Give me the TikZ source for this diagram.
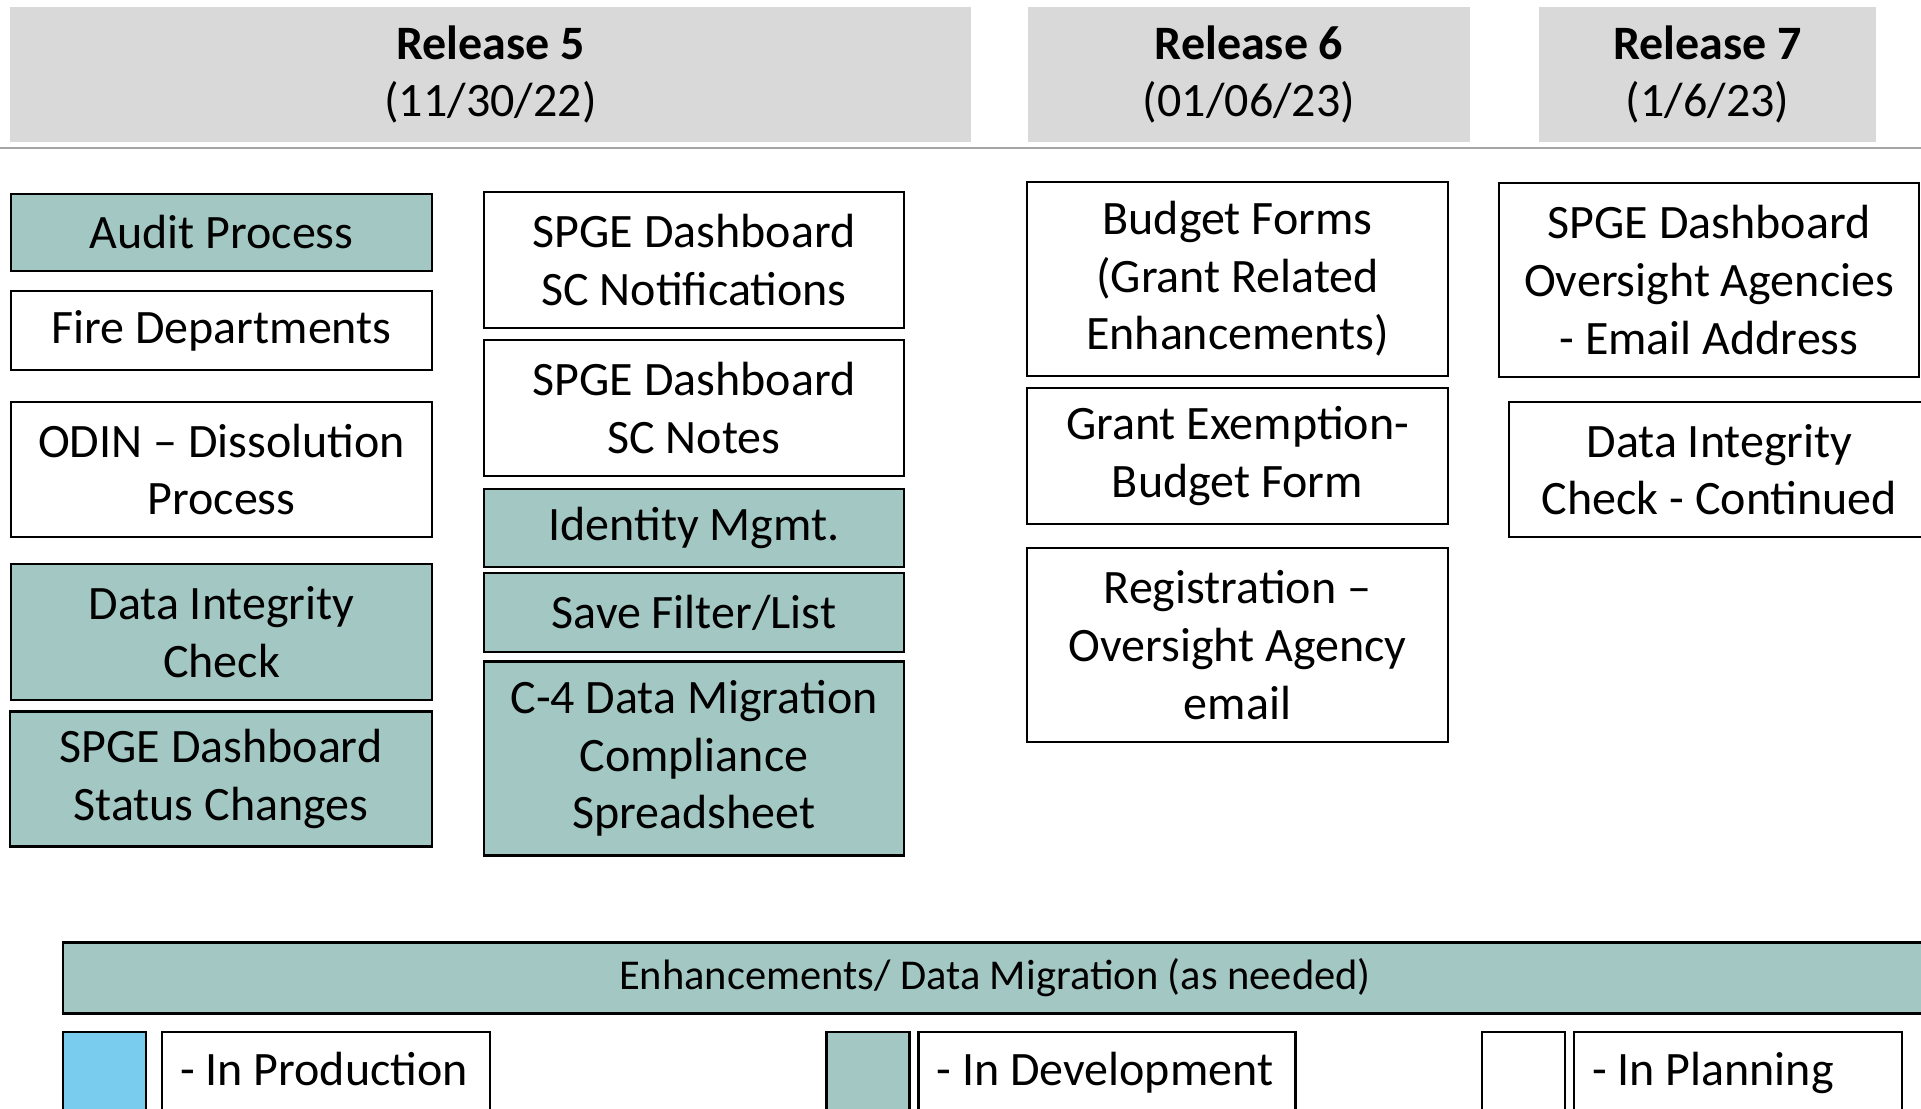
\documentclass[tikz,border=0pt]{standalone}
\usepackage{fontspec}
\setmainfont{Carlito}
\usepackage{xcolor}

\definecolor{devteal}{HTML}{A3C8C4}
\definecolor{prodblue}{HTML}{7ACCEF}
\definecolor{headgray}{HTML}{D9D9D9}
\definecolor{rulegray}{HTML}{A6A6A6}

\tikzset{
  task/.style={draw=black, line width=2.2pt, align=center, inner sep=0pt,
    font=\fontsize{48}{57.6}\selectfont},
  devtask/.style={task, fill=devteal},
  relhead/.style={fill=headgray, align=center, inner sep=0pt,
    font=\fontsize{48}{57.6}\selectfont},
  legswatch/.style={draw=black, line width=2.2pt, minimum width=83pt,
    minimum height=78pt, inner sep=0pt},
  leglabel/.style={task, align=flush left, inner xsep=18pt, minimum height=78pt,
    text height=37pt, text depth=9pt}
}

\begin{document}
\begin{tikzpicture}[x=1pt, y=-1pt]
  \clip (0,0) rectangle (1921,1108);

  % release headers
  \node[relhead, minimum width=961pt, minimum height=135pt] (relfive)
  at (490.5,74.5) {\textbf{Release 5}\\(11/30/22)};
  \node[relhead, minimum width=442pt, minimum height=135pt] (relsix)
  at (1249,74.5) {\textbf{Release 6}\\(01/06/23)};
  \node[relhead, minimum width=337pt, minimum height=135pt] (relseven)
  at (1707.5,74.5) {\textbf{Release 7}\\(1/6/23)};
  \draw[rulegray, line width=2pt] (0,148) -- (1921,148);

  % release 5, first column
  \node[devtask, minimum width=421pt, minimum height=77pt] (audit)
  at (221.5,232.5) {Audit Process};
  \node[task, minimum width=421pt, minimum height=79pt] (fire)
  at (221.5,330.5) {Fire Departments};
  \node[task, minimum width=421pt, minimum height=135pt] (odin)
  at (221.5,469.5) {ODIN -- Dissolution\\Process};
  \node[devtask, minimum width=421pt, minimum height=136pt] (integrity)
  at (221.5,632) {Data Integrity\\Check};
  \node[devtask, minimum width=422pt, minimum height=135pt] (status)
  at (221,779) {SPGE Dashboard\\Status Changes};

  % release 5, second column
  \node[task, minimum width=420pt, minimum height=136pt] (notify)
  at (694,260) {SPGE Dashboard\\SC Notifications};
  \node[task, minimum width=420pt, minimum height=136pt] (notes)
  at (694,408) {SPGE Dashboard\\SC Notes};
  \node[devtask, minimum width=420pt, minimum height=78pt] (identity)
  at (694,528) {Identity Mgmt.};
  \node[devtask, minimum width=420pt, minimum height=79pt] (savefilter)
  at (694,612.5) {Save Filter/List};
  \node[devtask, minimum width=420pt, minimum height=194pt] (cfour)
  at (694,758.5) {C-4 Data Migration\\Compliance\\Spreadsheet};

  % release 6
  \node[task, minimum width=421pt, minimum height=194pt] (budget)
  at (1237.5,279) {Budget Forms\\(Grant Related\\Enhancements)};
  \node[task, minimum width=421pt, minimum height=136pt] (exemption)
  at (1237.5,456) {Grant Exemption-\\Budget Form};
  \node[task, minimum width=421pt, minimum height=194pt] (registration)
  at (1237.5,645) {Registration --\\Oversight Agency\\email};

  % release 7
  \node[task, minimum width=420pt, minimum height=194pt] (oversight)
  at (1709,280) {SPGE Dashboard\\Oversight Agencies\\- Email Address};
  \node[task, minimum width=421pt, minimum height=135pt] (intcont)
  at (1719.5,469.5) {Data Integrity\\Check - Continued};

  % ongoing bar
  \node[devtask, minimum width=1864pt, minimum height=71pt,
  font=\fontsize{42.5}{50}\selectfont] (ongoing)
  at (995,978) {Enhancements/ Data Migration (as needed)};

  % legend
  \node[legswatch, fill=prodblue] (prodswatch) at (104.5,1071) {};
  \node[leglabel, text width=292pt] (prodlabel) at (326,1071) {- In Production};
  \node[legswatch, fill=devteal] (devswatch) at (868,1071) {};
  \node[leglabel, text width=341pt] (devlabel) at (1107,1071) {- In Development};
  \node[legswatch, fill=white] (planswatch) at (1523.5,1071) {};
  \node[leglabel, text width=292pt] (planlabel) at (1738,1071) {- In Planning};
\end{tikzpicture}
\end{document}
